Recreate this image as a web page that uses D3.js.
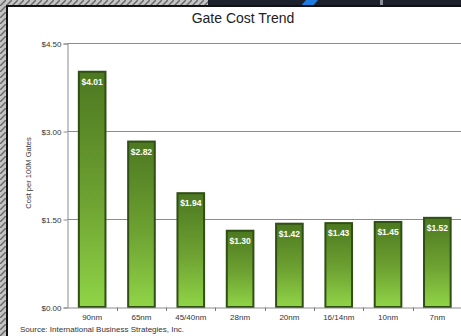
<!DOCTYPE html>
<html>
<head>
<meta charset="utf-8">
<script src="https://cdn.jsdelivr.net/npm/d3@7"></script>
<style>
  html, body { margin: 0; padding: 0; background: #ffffff; }
  svg { display: block; }
</style>
</head>
<body>
<svg id="chart" width="461" height="336"></svg>
<script>
// Chart data
const nodes = ["90nm", "65nm", "45/40nm", "28nm", "20nm", "16/14nm", "10nm", "7nm"];
const gateCost = [4.01, 2.82, 1.94, 1.30, 1.42, 1.43, 1.45, 1.52];
const yTicks = [0, 1.5, 3.0, 4.5];
const titleText = "Gate Cost Trend";
const yAxisTitle = "Cost per 100M Gates";
const sourceText = "Source: International Business Strategies, Inc.";

const W = 461, H = 336;
const FONT = "Liberation Sans, Arial, sans-serif";
const svg = d3.select("#chart");
const defs = svg.append("defs");

// Textured frame around the slide panel
const pat = defs.append("pattern")
  .attr("id", "tex").attr("patternUnits", "userSpaceOnUse")
  .attr("width", 6).attr("height", 6);
pat.append("rect").attr("width", 6).attr("height", 6).attr("fill", "#c4c4c4");
pat.append("path").attr("d", "M0,6 L6,0").attr("stroke", "#6a6a6a").attr("stroke-width", 1.5);

const grad = defs.append("linearGradient")
  .attr("id", "barGrad").attr("x1", 0).attr("y1", 0).attr("x2", 0).attr("y2", 1);
grad.append("stop").attr("offset", "0%").attr("stop-color", "#4c7820");
grad.append("stop").attr("offset", "55%").attr("stop-color", "#6ea232");
grad.append("stop").attr("offset", "100%").attr("stop-color", "#90d447");

// Background frame
svg.append("rect").attr("x", 0).attr("y", 0).attr("width", W).attr("height", H).attr("fill", "url(#tex)");
svg.append("rect").attr("x", 208).attr("y", 0).attr("width", W - 208).attr("height", 7).attr("fill", "#1c212b");
svg.append("path").attr("d", "M300,7 L306,0 L318,0 L312,7 Z").attr("fill", "#1f7be0");
svg.append("rect").attr("x", 380).attr("y", 0).attr("width", 3).attr("height", 7).attr("fill", "#8a8e96");
svg.append("rect").attr("x", 6).attr("y", 5).attr("width", W - 6).attr("height", H - 5).attr("fill", "#111");
svg.append("rect").attr("x", 8).attr("y", 7).attr("width", W - 8).attr("height", H - 7).attr("fill", "#ffffff");

// Scales
const x = d3.scaleBand().domain(nodes).range([67.5, 462]).paddingInner(0.46).paddingOuter(0.23);
const y = d3.scaleLinear().domain([0, 4.5]).range([307, 43]);

// Gridlines
svg.append("g").selectAll("line").data(yTicks.filter(d => d > 0)).join("line")
  .attr("x1", 67.5).attr("x2", W)
  .attr("y1", d => Math.round(y(d)) + 0.5).attr("y2", d => Math.round(y(d)) + 0.5)
  .attr("stroke", "#8c8c8c").attr("stroke-width", 1);

// Y axis
const yAxis = svg.append("g").attr("transform", "translate(67.5,0.5)")
  .call(d3.axisLeft(y).tickValues(yTicks).tickSize(4).tickFormat(d => "$" + d.toFixed(2)));
yAxis.select(".domain").attr("stroke", "#8c8c8c");
yAxis.selectAll(".tick line").attr("stroke", "#8c8c8c");
yAxis.selectAll("text").attr("font-family", FONT)
  .attr("font-size", 8).attr("fill", "#333").attr("x", -6);

// Bars
svg.append("g").selectAll("rect").data(nodes).join("rect")
  .attr("x", d => x(d)).attr("width", x.bandwidth())
  .attr("y", (d, i) => y(gateCost[i])).attr("height", (d, i) => y(0) - y(gateCost[i]))
  .attr("fill", "url(#barGrad)").attr("stroke", "#2f4f14").attr("stroke-width", 2);

// X axis
const xAxis = svg.append("g").attr("transform", "translate(0,307.5)")
  .call(d3.axisBottom(x).tickSize(0).tickPadding(7));
xAxis.select(".domain").attr("stroke", "#8c8c8c");
xAxis.selectAll("text").attr("font-family", FONT)
  .attr("font-size", 8).attr("fill", "#333");
// Category separator ticks
const step = x.step();
const sepX = d => Math.round(x(d) + x.bandwidth() + (step - x.bandwidth()) / 2) + 0.5;
svg.append("g").selectAll("line").data(nodes.slice(0, -1)).join("line")
  .attr("x1", sepX).attr("x2", sepX)
  .attr("y1", 307.5).attr("y2", 311).attr("stroke", "#777");

// Value labels
svg.append("g").selectAll("text").data(nodes).join("text")
  .attr("x", d => x(d) + x.bandwidth() / 2)
  .attr("y", (d, i) => y(gateCost[i]) + 13)
  .attr("text-anchor", "middle")
  .attr("font-family", FONT)
  .attr("font-size", 8.5).attr("font-weight", "bold").attr("fill", "#ffffff")
  .text((d, i) => "$" + gateCost[i].toFixed(2));

// Title
svg.append("text").attr("x", 243).attr("y", 23).attr("text-anchor", "middle")
  .attr("font-family", FONT).attr("font-size", 14)
  .attr("fill", "#222").text(titleText);

// Y axis title
svg.append("text").attr("transform", "translate(31,173) rotate(-90)")
  .attr("text-anchor", "middle")
  .attr("font-family", FONT).attr("font-size", 7.5)
  .attr("fill", "#333").text(yAxisTitle);

// Source note
svg.append("text").attr("x", 20).attr("y", 332)
  .attr("font-family", FONT).attr("font-size", 8)
  .attr("fill", "#333").text(sourceText);
</script>
</body>
</html>
